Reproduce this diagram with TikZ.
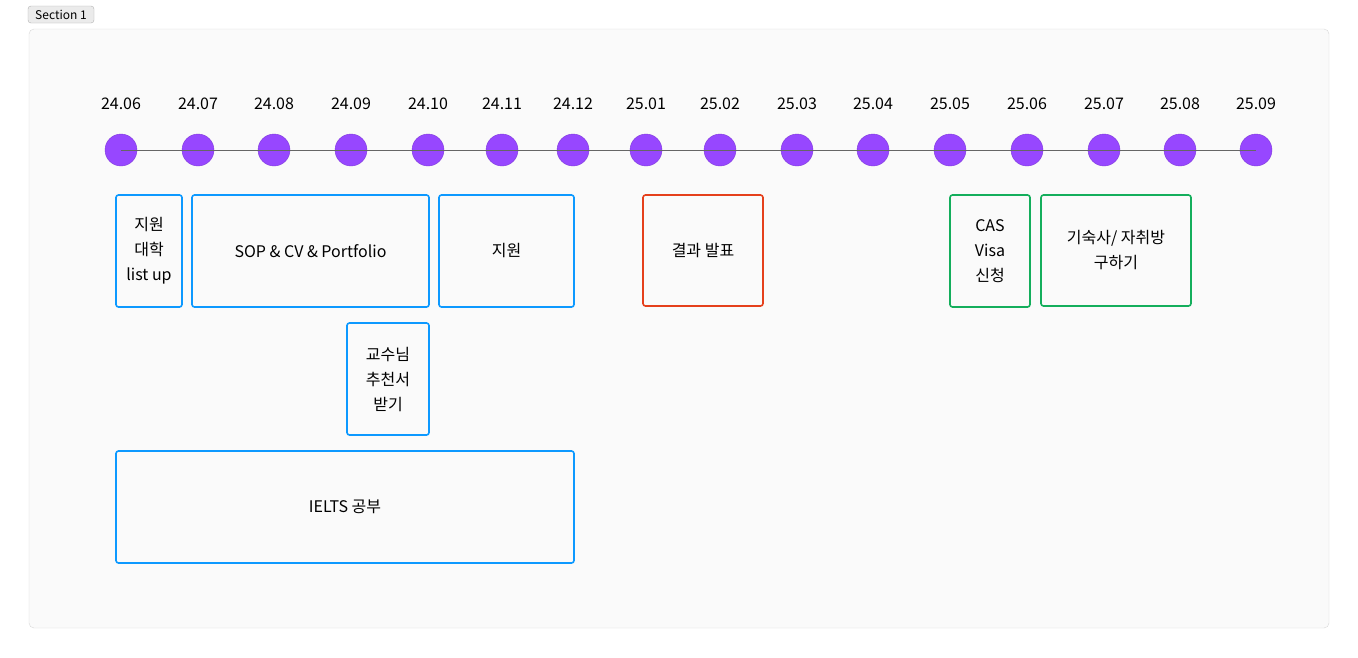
\documentclass[tikz,border=0pt]{standalone}
\usepackage{fontspec}
\setmainfont{Noto Sans CJK KR}
\definecolor{purp}{HTML}{9747FF}
\definecolor{blu}{HTML}{0D99FF}
\definecolor{redb}{HTML}{E5401C}
\definecolor{grn}{HTML}{14AE5C}
\begin{document}
\begin{tikzpicture}[x=1pt,y=-1pt,
  dot/.style={circle,fill=purp,draw=purp!85!black,line width=0.4pt,minimum size=32pt,inner sep=0},
  lbl/.style={font=\fontsize{16}{18}\selectfont},
  box/.style={draw=#1,line width=1.6pt,rounded corners=2.5pt,align=center,font=\fontsize{16}{25}\selectfont,inner sep=0}]
\useasboundingbox (0,0) rectangle (1358,657);
\fill[white] (0,0) rectangle (1358,657);
\draw[draw=black!15,fill=black!2,rounded corners=5pt] (29,29) rectangle (1329,628);
\node[draw=black!30,fill=black!8,rounded corners=3pt,font=\fontsize{12}{13}\selectfont,inner sep=0,minimum width=66pt,minimum height=17pt] (sec) at (61,14.5) {Section 1};
\foreach \x/\t [count=\i] in {121/24.06,198/24.07,274/24.08,351/24.09,428/24.10,502/24.11,573/24.12,646/25.01,720/25.02,797/25.03,873/25.04,950/25.05,1027/25.06,1104/25.07,1180/25.08,1256/25.09}{
  \node[dot] (c\i) at (\x,150) {};
  \node[lbl] (l\i) at (\x,104) {\t};
}
\draw[black!60,line width=0.8pt] (c1.center) -- (c16.center);
\node[box=blu,minimum width=66pt,minimum height=112pt] (b1) at (149,251) {지원\\대학\\list up};
\node[box=blu,minimum width=237pt,minimum height=112pt] (b2) at (310.5,251) {SOP \& CV \& Portfolio};
\node[box=blu,minimum width=135pt,minimum height=112pt] (b3) at (506.5,251) {지원};
\node[box=redb,minimum width=120pt,minimum height=111pt] (b4) at (703,250.5) {결과 발표};
\node[box=grn,minimum width=80pt,minimum height=112pt] (b5) at (990,251) {CAS\\Visa\\신청};
\node[box=grn,minimum width=150pt,minimum height=111pt] (b6) at (1116,250.5) {기숙사/ 자취방\\구하기};
\node[box=blu,minimum width=82pt,minimum height=112pt] (b7) at (388,379) {교수님\\추천서\\받기};
\node[box=blu,minimum width=458pt,minimum height=112pt] (b8) at (345,507) {IELTS 공부};
\end{tikzpicture}
\end{document}
